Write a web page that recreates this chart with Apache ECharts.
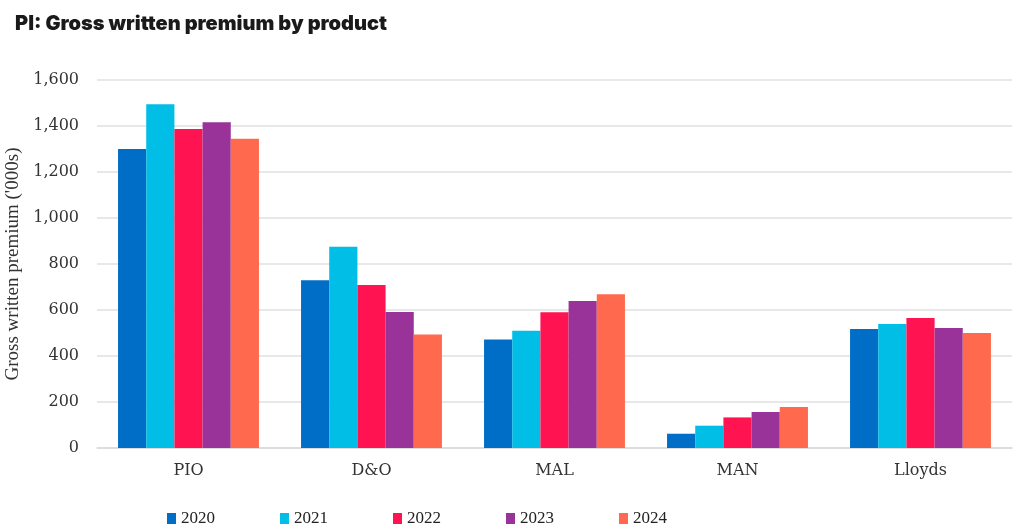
<!DOCTYPE html>
<html><head><meta charset="utf-8">
<script src="https://cdn.jsdelivr.net/npm/echarts@6/dist/echarts.min.js"></script>
<style>html,body{margin:0;padding:0;background:#fff}#c{width:1024px;height:529px}</style>
</head><body><div id="c"></div>
<script>
const categories = ["PIO", "D&O", "MAL", "MAN", "Lloyds"];
const years = ["2020", "2021", "2022", "2023", "2024"];
const v2020 = [1300, 729, 472, 62, 517];
const v2021 = [1495, 875, 510, 97, 539];
const v2022 = [1387, 709, 590, 133, 565];
const v2023 = [1416, 591, 639, 157, 522];
const v2024 = [1345, 494, 668, 178, 500];
const colors = ["#006EC7", "#00BEE6", "#FF1451", "#993399", "#FF6A4F"];
const values = [v2020, v2021, v2022, v2023, v2024];
const serif = "DejaVu Serif";
const chart = echarts.init(document.getElementById('c'));
chart.setOption({
  animation: false,
  title: {
    text: "PI: Gross written premium by product",
    left: 10, top: 9,
    textStyle: { fontFamily: "Inter", fontWeight: 900, fontSize: 20, color: "#1a1a1a" }
  },
  legend: {
    data: years,
    left: 162, top: 505,
    itemWidth: 9, itemHeight: 11, itemGap: 65,
    icon: "rect",
    textStyle: { fontFamily: "Liberation Serif", fontSize: 17, color: "#222" }
  },
  grid: { left: 97, right: 12, top: 80, bottom: 81, outerBoundsMode: "none" },
  xAxis: {
    type: "category",
    data: categories,
    axisTick: { show: false },
    axisLine: { lineStyle: { color: "#d9d9d9", width: 1.5 } },
    axisLabel: { fontFamily: serif, fontSize: 16, color: "#333", margin: 15 }
  },
  yAxis: {
    type: "value",
    min: 0, max: 1600, interval: 200,
    name: "Gross written premium ('000s)",
    nameLocation: "middle",
    nameGap: 74,
    nameTextStyle: { fontFamily: "Liberation Serif", fontSize: 19, color: "#333" },
    axisLabel: { fontFamily: serif, fontSize: 16, color: "#333", margin: 18,
      formatter: v => v.toLocaleString("en-US") },
    splitLine: { lineStyle: { color: "#e0e0e0", width: 1.5 } }
  },
  series: years.map((y, i) => ({
    name: y,
    type: "bar",
    data: values[i],
    barGap: "0%",
    barCategoryGap: "23%",
    itemStyle: { color: colors[i] }
  }))
});
</script></body></html>
